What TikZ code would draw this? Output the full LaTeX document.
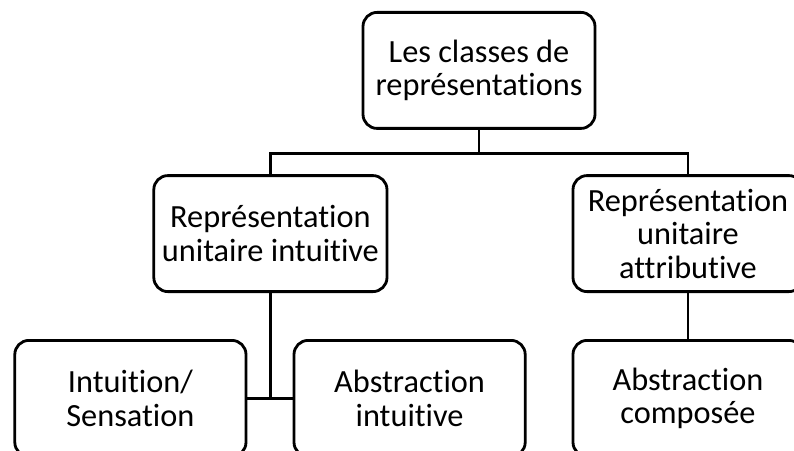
\documentclass[tikz,border=0pt]{standalone}
\usepackage{fontspec}
\setmainfont{Carlito}[Ligatures=NoCommon]
\usepackage{tikz}
\usetikzlibrary{positioning,calc}
\tikzset{
  classbox/.style={rectangle,rounded corners=10pt,draw=black,line width=2pt,
                   fill=white,minimum height=2.9cm,align=center,inner sep=2pt,
                   font=\fontsize{23}{23.8}\selectfont},
  link/.style={line width=2pt,black},
}

\begin{document}
\begin{tikzpicture}
  \useasboundingbox (0,0) rectangle (19.85,-11.25);
  \clip (0,0) rectangle (19.85,-11.25);

  \node[classbox,minimum width=5.8cm] (top) at (11.975,-1.76) {Les classes de\\représentations};

  \node[classbox,minimum width=5.83cm] (intu) at (6.76,-5.84) {Représentation\\unitaire intuitive};
  \node[classbox,minimum width=5.75cm] (attr) at (17.2,-5.84) {Représentation\\unitaire\\attributive};

  \node[classbox,minimum width=5.78cm] (sens) at (3.26,-9.96) {Intuition/\\Sensation};
  \node[classbox,minimum width=5.78cm] (absi) at (10.24,-9.96) {Abstraction\\intuitive};
  \node[classbox,minimum width=5.75cm] (absc) at (17.2,-9.96) {Abstraction\\composée};

  % tree links
  \coordinate (bus) at ($(top.south)+(0,-0.6)$);
  \draw[link] (top.south) -- (bus);
  \draw[link] (intu.north) |- (bus) -| (attr.north);
  \draw[link] (intu.south) -- (intu.south |- sens.east);
  \draw[link] (sens.east) -- (absi.west);
  \draw[link] (attr.south) -- (absc.north);
\end{tikzpicture}
\end{document}
